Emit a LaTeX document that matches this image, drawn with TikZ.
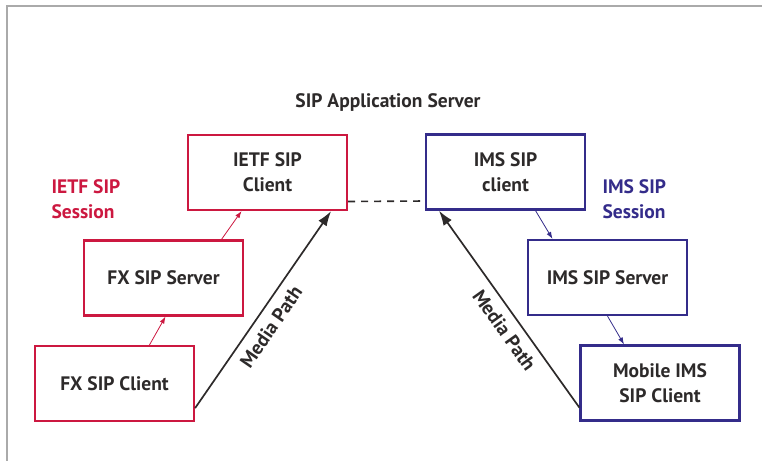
\documentclass[tikz,border=0pt]{standalone}
\usepackage{fontspec}
\setmainfont{PT Sans}
\usetikzlibrary{arrows.meta}
\definecolor{ietfred}{RGB}{204,24,64}
\definecolor{imsblue}{RGB}{52,44,138}
\definecolor{framegray}{RGB}{170,170,170}
\definecolor{textgray}{RGB}{45,42,42}
\tikzset{
    ietfbox/.style={draw=ietfred, line width=2.2pt, minimum width=159pt, minimum height=75pt, inner sep=0pt, align=center, text=textgray},
    imsbox/.style={draw=imsblue, line width=2.2pt, minimum width=159pt, minimum height=75pt, inner sep=0pt, align=center, text=textgray},
    sessarrow/.style={line width=0.8pt, -{Latex[length=7pt,width=5pt]}},
    mediaarrow/.style={line width=1.7pt, draw=textgray, -{Latex[length=15pt,width=10pt]}}
}
\begin{document}
\begin{tikzpicture}[x=1pt, y=-1pt, font=\fontsize{19.5}{25}\selectfont\bfseries]
        \useasboundingbox (0,0) rectangle (762,461);
        \draw [framegray, line width=1.2pt] (762,6) -- (7,6) -- (7,461);

        \node [text=textgray] (title) at (388,102) {SIP Application Server};

        \node [ietfbox] (ietf) at (267.5,172.5) {IETF SIP\\Client};
        \node [ietfbox] (fxserver) at (163.5,278) {FX SIP Server};
        \node [ietfbox] (fxclient) at (114.5,383.5) {FX SIP Client};

        \node [imsbox] (imsclient) at (505.5,172) {IMS SIP\\client};
        \node [imsbox] (imsserver) at (607.5,277.5) {IMS SIP Server};
        \node [imsbox] (mobile) at (660,383) {Mobile IMS\\SIP Client};

        \node [text=ietfred, align=left, anchor=west] (ietfsess) at (48,199) {IETF SIP\\Session};
        \node [text=imsblue, align=left, anchor=west] (imssess) at (599,199) {IMS SIP\\Session};

        \draw [sessarrow, ietfred] ([xshift=35pt]fxclient.north) -- ([xshift=2pt]fxserver.south);
        \draw [sessarrow, ietfred] ([xshift=58pt]fxserver.north) -- ([xshift=-26pt]ietf.south);
        \draw [sessarrow, imsblue] ([xshift=30pt]imsclient.south) -- ([xshift=-55pt]imsserver.north);
        \draw [sessarrow, imsblue] ([xshift=0pt]imsserver.south) -- ([xshift=-36pt]mobile.north);

        \draw [textgray, line width=1.6pt, dash pattern=on 7pt off 6pt] ([yshift=-29pt]ietf.east) -- ([yshift=-29pt]imsclient.east -| imsclient.west);

        \draw [mediaarrow] ([yshift=14pt]fxclient.south east) -- node[sloped, below=5pt, pos=0.46, text=textgray] {Media Path} ([xshift=-17pt]ietf.south east);
        \draw [mediaarrow] ([yshift=14pt]mobile.south west) -- node[sloped, below=5pt, pos=0.44, text=textgray] {Media Path} ([xshift=14pt]imsclient.south west);
    \end{tikzpicture}
\end{document}
